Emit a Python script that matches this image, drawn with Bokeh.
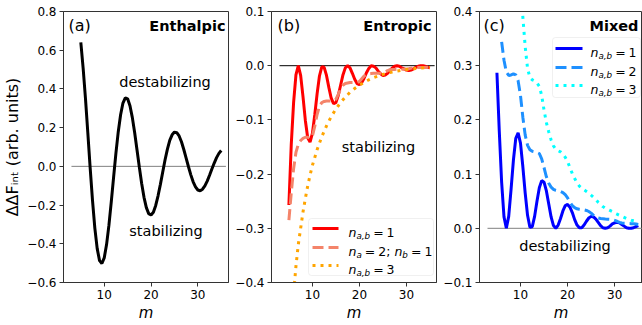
from bokeh.plotting import figure
from bokeh.layouts import row
from bokeh.models import Range1d, FixedTicker, CustomJSTickFormatter, Label, Arrow, BoxAnnotation
from bokeh.embed import file_html
from bokeh.resources import INLINE

# ---------------- data ----------------
m_half = [5.0, 5.5, 6.0, 6.5, 7.0, 7.5, 8.0, 8.5, 9.0, 9.5,
          10.0, 10.5, 11.0, 11.5, 12.0, 12.5, 13.0, 13.5, 14.0, 14.5,
          15.0, 15.5, 16.0, 16.5, 17.0, 17.5, 18.0, 18.5, 19.0, 19.5,
          20.0, 20.5, 21.0, 21.5, 22.0, 22.5, 23.0, 23.5, 24.0, 24.5,
          25.0, 25.5, 26.0, 26.5, 27.0, 27.5, 28.0, 28.5, 29.0, 29.5,
          30.0, 30.5, 31.0, 31.5, 32.0, 32.5, 33.0, 33.5, 34.0, 34.5, 35.0]

# (a) Enthalpic
enthalpic = [0.64, 0.506, 0.349, 0.172, -0.009, -0.177, -0.320, -0.425, -0.487, -0.502,
             -0.473, -0.404, -0.305, -0.185, -0.057, 0.068, 0.179, 0.267, 0.327, 0.354,
             0.349, 0.313, 0.253, 0.175, 0.086, -0.004, -0.089, -0.160, -0.213, -0.244,
             -0.251, -0.237, -0.202, -0.152, -0.093, -0.029, 0.034, 0.089, 0.134, 0.163,
             0.177, 0.174, 0.157, 0.127, 0.087, 0.043, -0.002, -0.044, -0.080, -0.106,
             -0.122, -0.126, -0.118, -0.101, -0.076, -0.046, -0.014, 0.017, 0.045, 0.067, 0.082]

# (b) Entropic
entropic_n1 = [-0.257, -0.146, -0.068, -0.017, 0.000, -0.018, -0.057, -0.101, -0.133, -0.141,
               -0.125, -0.091, -0.052, -0.019, -0.002, -0.003, -0.018, -0.040, -0.060, -0.070,
               -0.068, -0.055, -0.036, -0.017, -0.004, 0.000, -0.004, -0.014, -0.025, -0.033,
               -0.035, -0.031, -0.023, -0.013, -0.005, 0.000, -0.001, -0.004, -0.010, -0.015,
               -0.018, -0.017, -0.014, -0.009, -0.004, -0.001, 0.000, -0.001, -0.004, -0.006,
               -0.008, -0.009, -0.008, -0.006, -0.003, -0.001, 0.000, 0.000, -0.001, -0.003, -0.004]
entropic_n2 = [-0.285, -0.235, -0.19, -0.16, -0.145, -0.138, -0.134, -0.132, -0.132, -0.134,
               -0.13, -0.112, -0.09, -0.075, -0.068, -0.066, -0.065, -0.065, -0.065, -0.065,
               -0.062, -0.053, -0.043, -0.036, -0.033, -0.032, -0.031, -0.031, -0.031, -0.031,
               -0.029, -0.024, -0.019, -0.016, -0.015, -0.0145, -0.014, -0.014, -0.014, -0.014,
               -0.0135, -0.0115, -0.009, -0.0075, -0.007, -0.0068, -0.0066, -0.0065, -0.0065, -0.0065,
               -0.0063, -0.0055, -0.0045, -0.0037, -0.0034, -0.0033, -0.0032, -0.0032, -0.0032, -0.003, -0.0028]
m_orange = [5.0, 5.5, 6.0, 6.5, 7.0, 7.5, 8.0, 8.5, 9.0, 9.5, 10.0,
            11, 12, 13, 14, 15, 16, 17, 18, 19, 20, 21, 22, 23, 24, 25,
            26, 27, 28, 29, 30, 31, 32, 33, 34, 35]
entropic_n3 = [-0.55, -0.48, -0.42, -0.37, -0.33, -0.30, -0.27, -0.245, -0.222, -0.202, -0.184,
               -0.155, -0.131, -0.111, -0.094, -0.080, -0.068, -0.058, -0.049, -0.042, -0.036,
               -0.031, -0.026, -0.022, -0.019, -0.016, -0.0135, -0.0115, -0.0098, -0.0083, -0.007,
               -0.006, -0.005, -0.0042, -0.0036, -0.003]

# (c) Mixed
mixed_n1 = [0.287, 0.179, 0.085, 0.021, 0.000, 0.022, 0.072, 0.126, 0.166, 0.176,
            0.157, 0.114, 0.065, 0.024, 0.002, 0.003, 0.022, 0.050, 0.075, 0.088,
            0.085, 0.069, 0.045, 0.021, 0.005, 0.000, 0.006, 0.018, 0.032, 0.042,
            0.044, 0.039, 0.029, 0.016, 0.006, 0.001, 0.001, 0.006, 0.013, 0.019,
            0.022, 0.021, 0.017, 0.011, 0.005, 0.001, 0.000, 0.001, 0.004, 0.008,
            0.010, 0.011, 0.010, 0.007, 0.004, 0.001, 0.000, 0.000, 0.001, 0.003, 0.005]
m_mixed2 = m_half[2:]
mixed_n2 = [0.344, 0.31, 0.288, 0.282, 0.283, 0.285, 0.283, 0.272, 0.245, 0.205,
            0.172, 0.153, 0.145, 0.142, 0.141, 0.140, 0.138, 0.128, 0.112, 0.095,
            0.083, 0.076, 0.072, 0.070, 0.069, 0.068, 0.066, 0.062, 0.056, 0.048,
            0.042, 0.038, 0.036, 0.035, 0.0345, 0.034, 0.033, 0.031, 0.028, 0.024,
            0.021, 0.019, 0.018, 0.0175, 0.017, 0.0168, 0.0165, 0.016, 0.0145, 0.013,
            0.011, 0.0098, 0.0092, 0.009, 0.0088, 0.0086, 0.0083, 0.0078, 0.007]
m_mixed3 = m_half[9:]
mixed_n3 = [0.48, 0.43, 0.39, 0.335, 0.295, 0.278, 0.274, 0.272, 0.268, 0.262,
            0.245, 0.218, 0.195, 0.178, 0.163, 0.152, 0.146, 0.143, 0.141, 0.137,
            0.131, 0.123, 0.112, 0.101, 0.092, 0.084, 0.078, 0.074, 0.071, 0.068,
            0.065, 0.061, 0.057, 0.053, 0.048, 0.044, 0.040, 0.037, 0.035, 0.033,
            0.031, 0.028, 0.026, 0.024, 0.022, 0.020, 0.018, 0.017, 0.015, 0.014,
            0.013, 0.012]

zero_m = [3.0, 36.0]
zero_v = [0.0, 0.0]

x_ticks = [10, 20, 30]
yticks_a = [-0.6, -0.4, -0.2, 0.0, 0.2, 0.4, 0.6, 0.8]
yticks_b = [-0.4, -0.3, -0.2, -0.1, 0.0, 0.1]
yticks_c = [-0.1, 0.0, 0.1, 0.2, 0.3, 0.4]

# ---------------- styling ----------------
FONT = "DejaVu Sans"
SPINE = "#333333"
TXT = "14.5px"
H = 325
BT, BB = 11, 43

DASH = "11 5"
DOT = "3 5"

# DejaVu Sans advance widths (em) for composing texts from pieces
W = {"n": 0.634, "a": 0.613, "b": 0.635, ",": 0.318, " ": 0.318, "\u00a0": 0.318,
     "=": 0.838, "1": 0.636, "2": 0.636, "3": 0.636, ";": 0.337}


def text_w(s, size):
    return sum(W.get(ch, 0.6) for ch in s) * size


def make_fig(width, bl, br, xr, yr, yticks):
    p = figure(width=width, height=H, x_range=Range1d(*xr), y_range=Range1d(*yr),
               output_backend="svg", toolbar_location=None,
               min_border_left=bl, min_border_right=br, min_border_top=BT, min_border_bottom=BB)
    p.xgrid.visible = False
    p.ygrid.visible = False
    p.outline_line_color = SPINE
    p.outline_line_width = 1
    p.outline_line_alpha = 1
    p.background_fill_color = "white"
    p.border_fill_color = "white"
    for ax in (p.xaxis[0], p.yaxis[0]):
        ax.axis_line_color = SPINE
        ax.major_tick_line_color = SPINE
        ax.major_tick_out = 4
        ax.major_tick_in = 0
        ax.minor_tick_line_color = None
        ax.major_label_text_font = FONT
        ax.major_label_text_font_size = "12px"
        ax.major_label_text_color = "black"
        ax.major_label_standoff = 3
        ax.axis_label_text_font = FONT
        ax.axis_label_text_font_size = "15px"
        ax.axis_label_text_font_style = "normal"
        ax.axis_label_text_color = "black"
        ax.axis_label_standoff = 2
    p.xaxis.ticker = FixedTicker(ticks=x_ticks)
    p.yaxis.ticker = FixedTicker(ticks=yticks)
    p.yaxis.formatter = CustomJSTickFormatter(code="return tick.toFixed(1).replace('-', '\u2212');")
    p.xaxis.axis_label = "m"
    p.xaxis.axis_label_text_font_style = "italic"
    return p


def label(p, x, y, text, size=TXT, align="left", style="normal", baseline="middle"):
    p.add_layout(Label(x=x, y=y, x_units="screen", y_units="screen", text=text,
                       text_font=FONT, text_font_size=size, text_font_style=style,
                       text_align=align, text_baseline=baseline, text_color="black"))


def compose(p, x, y, parts, size, sub_ratio=0.7, sub_drop=3.0):
    """Horizontal run of pieces; kinds: 'n' normal, 'it' italic, 'sub' italic subscript, 'gap' space."""
    for txt, kind in parts:
        if kind == "gap":
            x += txt
            continue
        fs = size * sub_ratio if kind == "sub" else size
        yy = y - sub_drop if kind == "sub" else y
        st = "normal" if kind == "n" else "italic"
        label(p, x, yy, txt, size=f"{fs:.2f}px", style=st, baseline="alphabetic")
        x += text_w(txt, fs)


def legend(p, box, items, sx0, sx1, tx, size=12.5):
    l, r, b, t = box
    p.add_layout(BoxAnnotation(left=l, right=r, bottom=b, top=t,
                               left_units="screen", right_units="screen",
                               bottom_units="screen", top_units="screen",
                               fill_color="white", fill_alpha=0.85,
                               line_color="#cccccc", line_width=1, border_radius=3))
    for (y, color, dash, parts) in items:
        p.add_layout(Arrow(x_start=sx0, y_start=y, x_end=sx1, y_end=y,
                           start_units="screen", end_units="screen", start=None, end=None,
                           line_color=color, line_width=3, line_dash=dash))
        compose(p, tx, y - 4, parts, size)


def nab(v):
    return [("n", "it"), ("a,b", "sub"), (3, "gap"), ("=", "n"), (3, "gap"), (v, "n")]


# ---------------- panel (a) ----------------
pa = make_fig(229, 62, 1, (1.3, 36.55), (-0.6, 0.8), yticks_a)
pa.yaxis.axis_label = "\u0394\u0394F\u1d62\u2099\u209c (arb. units)"
pa.yaxis.axis_label_text_font_size = "16px"
pa.line(zero_m, zero_v, line_color="#808080", line_width=1)
pa.line(m_half, enthalpic, line_color="black", line_width=3)
label(pa, 5, 257, "(a)", size="16px")
label(pa, 162, 257, "Enthalpic", align="right", style="bold")
label(pa, 101.5, 201, "destabilizing", align="center")
label(pa, 102.5, 52, "stabilizing", align="center")

# ---------------- panel (b) ----------------
pb = make_fig(208, 42, 1, (1.3, 36.4), (-0.4, 0.1), yticks_b)
pb.line(zero_m, zero_v, line_color="black", line_width=1)
pb.line(m_half, entropic_n1, line_color="red", line_width=3)
pb.line(m_half, entropic_n2, line_color="#f4846a", line_width=3, line_dash=DASH)
pb.line(m_orange, entropic_n3, line_color="orange", line_width=3, line_dash=DOT)
label(pb, 6, 257, "(b)", size="16px")
label(pb, 160, 257, "Entropic", align="right", style="bold")
label(pb, 107, 136, "stabilizing", align="center")
legend(pb, (37, 162, 7, 64), [
    (54, "red", "solid", nab("1")),
    (35, "#f4846a", DASH, [("n", "it"), ("a", "sub"), (3, "gap"), ("=", "n"), (3, "gap"), ("2;", "n"),
                           (4, "gap"), ("n", "it"), ("b", "sub"), (3, "gap"), ("=", "n"), (3, "gap"), ("1", "n")]),
    (17, "orange", DOT, nab("3")),
], 41, 67, 77)

# ---------------- panel (c) ----------------
pc = make_fig(205, 42, 0, (1.3, 35.9), (-0.1, 0.4), yticks_c)
pc.line(zero_m, zero_v, line_color="#808080", line_width=1)
pc.line(m_half, mixed_n1, line_color="blue", line_width=3)
pc.line(m_mixed2, mixed_n2, line_color="dodgerblue", line_width=3, line_dash=DASH)
pc.line(m_mixed3, mixed_n3, line_color="cyan", line_width=3, line_dash=DOT)
label(pc, 4, 257, "(c)", size="16px")
label(pc, 159, 257, "Mixed", align="right", style="bold")
label(pc, 85.5, 37, "destabilizing", align="center")
legend(pc, (73, 161, 185, 245), [
    (234, "blue", "solid", nab("1")),
    (215, "dodgerblue", DASH, nab("2")),
    (197, "cyan", DOT, nab("3")),
], 76, 103, 111)

layout = row(pa, pb, pc, spacing=0)
open("out.html", "w").write(file_html(layout, INLINE))
